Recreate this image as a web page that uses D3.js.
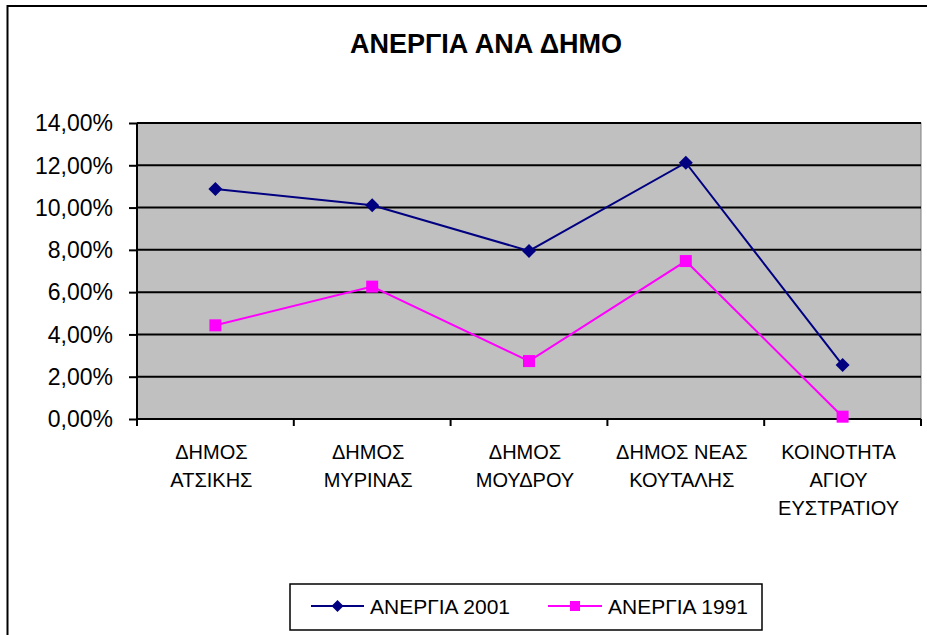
<!DOCTYPE html>
<html>
<head>
<meta charset="utf-8">
<script src="https://cdn.jsdelivr.net/npm/d3@7"></script>
<style>
  html, body { margin: 0; padding: 0; background: #fff; }
  svg { display: block; font-family: "Liberation Sans", Arial, sans-serif; }
</style>
</head>
<body>
<svg id="chart" width="927" height="635"></svg>
<script>
// ---- data ----
const title = "ΑΝΕΡΓΙΑ ΑΝΑ ΔΗΜΟ";
const categories = ["ΔΗΜΟΣ ΑΤΣΙΚΗΣ", "ΔΗΜΟΣ ΜΥΡΙΝΑΣ", "ΔΗΜΟΣ ΜΟΥΔΡΟΥ", "ΔΗΜΟΣ ΝΕΑΣ ΚΟΥΤΑΛΗΣ", "ΚΟΙΝΟΤΗΤΑ ΑΓΙΟΥ ΕΥΣΤΡΑΤΙΟΥ"];
const categoryLines = [
  ["ΔΗΜΟΣ", "ΑΤΣΙΚΗΣ"],
  ["ΔΗΜΟΣ", "ΜΥΡΙΝΑΣ"],
  ["ΔΗΜΟΣ", "ΜΟΥΔΡΟΥ"],
  ["ΔΗΜΟΣ ΝΕΑΣ", "ΚΟΥΤΑΛΗΣ"],
  ["ΚΟΙΝΟΤΗΤΑ", "ΑΓΙΟΥ", "ΕΥΣΤΡΑΤΙΟΥ"]
];
const seriesNames = ["ΑΝΕΡΓΙΑ 2001", "ΑΝΕΡΓΙΑ 1991"];
const unemployment2001 = [0.1088, 0.1011, 0.0795, 0.1212, 0.0255];
const unemployment1991 = [0.0443, 0.0626, 0.0274, 0.0747, 0.0011];
const yTicks = [0, 0.02, 0.04, 0.06, 0.08, 0.10, 0.12, 0.14];

// ---- layout ----
const svg = d3.select("#chart");
const plot = { left: 137, right: 921, top: 123, bottom: 419 };
const colors = ["#000080", "#FF00FF"];

const locale = d3.formatLocale({ decimal: ",", thousands: ".", grouping: [3], currency: ["", "€"] });
const fmt = locale.format(".2%");

const x = d3.scaleBand().domain(categories).range([plot.left, plot.right]).paddingInner(0).paddingOuter(0);
const y = d3.scaleLinear().domain([0, 0.14]).range([plot.bottom, plot.top]);

// outer chart border
svg.append("rect")
  .attr("x", 7.5).attr("y", 6).attr("width", 930).attr("height", 640)
  .attr("fill", "none").attr("stroke", "#000").attr("stroke-width", 2);

// title
svg.append("text")
  .attr("x", 486).attr("y", 53)
  .attr("text-anchor", "middle")
  .attr("font-size", 27).attr("font-weight", "bold")
  .text(title);

// plot background
svg.append("rect")
  .attr("x", plot.left).attr("y", plot.top)
  .attr("width", plot.right - plot.left).attr("height", plot.bottom - plot.top)
  .attr("fill", "#C0C0C0").attr("stroke", "#808080").attr("stroke-width", 1);

// gridlines
svg.append("g").selectAll("line").data(yTicks.filter(d => d > 0)).join("line")
  .attr("x1", plot.left).attr("x2", plot.right)
  .attr("y1", d => y(d)).attr("y2", d => y(d))
  .attr("stroke", "#000").attr("stroke-width", 2);

// y axis
const yAxis = d3.axisLeft(y).tickValues(yTicks).tickFormat(fmt).tickSize(8).tickPadding(16);
const gy = svg.append("g").attr("transform", `translate(${plot.left},0)`).call(yAxis);
gy.select(".domain").attr("stroke", "#000").attr("stroke-width", 2).attr("d", `M0,${plot.top}V${plot.bottom}`);
gy.selectAll(".tick line").attr("stroke", "#000").attr("stroke-width", 2);
gy.selectAll(".tick text")
  .attr("font-family", "Liberation Sans, Arial, sans-serif")
  .attr("font-size", 23).attr("fill", "#000").attr("dy", "0.34em");

// x axis
const xAxis = d3.axisBottom(x).tickValues([]).tickSize(0);
const gx = svg.append("g").attr("transform", `translate(0,${plot.bottom})`).call(xAxis);
gx.select(".domain").attr("stroke", "#000").attr("stroke-width", 2).attr("d", `M${plot.left},0H${plot.right}`);
const boundaries = categories.map(c => x(c)).concat([x(categories[categories.length - 1]) + x.bandwidth()]);
gx.selectAll(".bt").data(boundaries).join("line")
  .attr("x1", d => d).attr("x2", d => d).attr("y1", 0).attr("y2", 7)
  .attr("stroke", "#000").attr("stroke-width", 2);

const labels = svg.append("g");
categories.forEach((c, i) => {
  const t = labels.append("text")
    .attr("text-anchor", "middle")
    .attr("font-size", 20).attr("fill", "#000");
  categoryLines[i].forEach((ln, j) => {
    t.append("tspan")
      .attr("x", x(c) + x.bandwidth() / 2 - 4)
      .attr("y", plot.bottom + 40 + j * 28)
      .text(ln);
  });
});

// series
const seriesData = [unemployment2001, unemployment1991];
const line = d3.line().x((d, i) => x(categories[i]) + x.bandwidth() / 2).y(d => y(d));
seriesData.forEach((vals, s) => {
  svg.append("path").datum(vals)
    .attr("d", line).attr("fill", "none")
    .attr("stroke", colors[s]).attr("stroke-width", 2);
});
// markers
svg.append("g").selectAll("path").data(unemployment2001).join("path")
  .attr("transform", (d, i) => `translate(${x(categories[i]) + x.bandwidth() / 2},${y(d)})`)
  .attr("d", "M0,-7L7,0L0,7L-7,0Z")
  .attr("fill", colors[0]);
svg.append("g").selectAll("rect").data(unemployment1991).join("rect")
  .attr("x", (d, i) => x(categories[i]) + x.bandwidth() / 2 - 6)
  .attr("y", d => y(d) - 6)
  .attr("width", 12).attr("height", 12)
  .attr("fill", colors[1]);

// legend
const lg = svg.append("g");
lg.append("rect")
  .attr("x", 290).attr("y", 584).attr("width", 472).attr("height", 46)
  .attr("fill", "#fff").attr("stroke", "#000").attr("stroke-width", 1.5);
const legendItems = [
  { x0: 311, x1: 364, tx: 370 },
  { x0: 548, x1: 602, tx: 608 }
];
seriesNames.forEach((name, i) => {
  const it = legendItems[i];
  const ly = 606;
  lg.append("line").attr("x1", it.x0).attr("x2", it.x1).attr("y1", ly).attr("y2", ly)
    .attr("stroke", colors[i]).attr("stroke-width", 2);
  const cx = (it.x0 + it.x1) / 2;
  if (i === 0) {
    lg.append("path").attr("transform", `translate(${cx},${ly})`)
      .attr("d", "M0,-6L6,0L0,6L-6,0Z").attr("fill", colors[0]);
  } else {
    lg.append("rect").attr("x", cx - 5).attr("y", ly - 5).attr("width", 10).attr("height", 10)
      .attr("fill", colors[1]);
  }
  lg.append("text").attr("x", it.tx).attr("y", ly + 8)
    .attr("font-size", 21).attr("fill", "#000").text(name);
});
</script>
</body>
</html>
